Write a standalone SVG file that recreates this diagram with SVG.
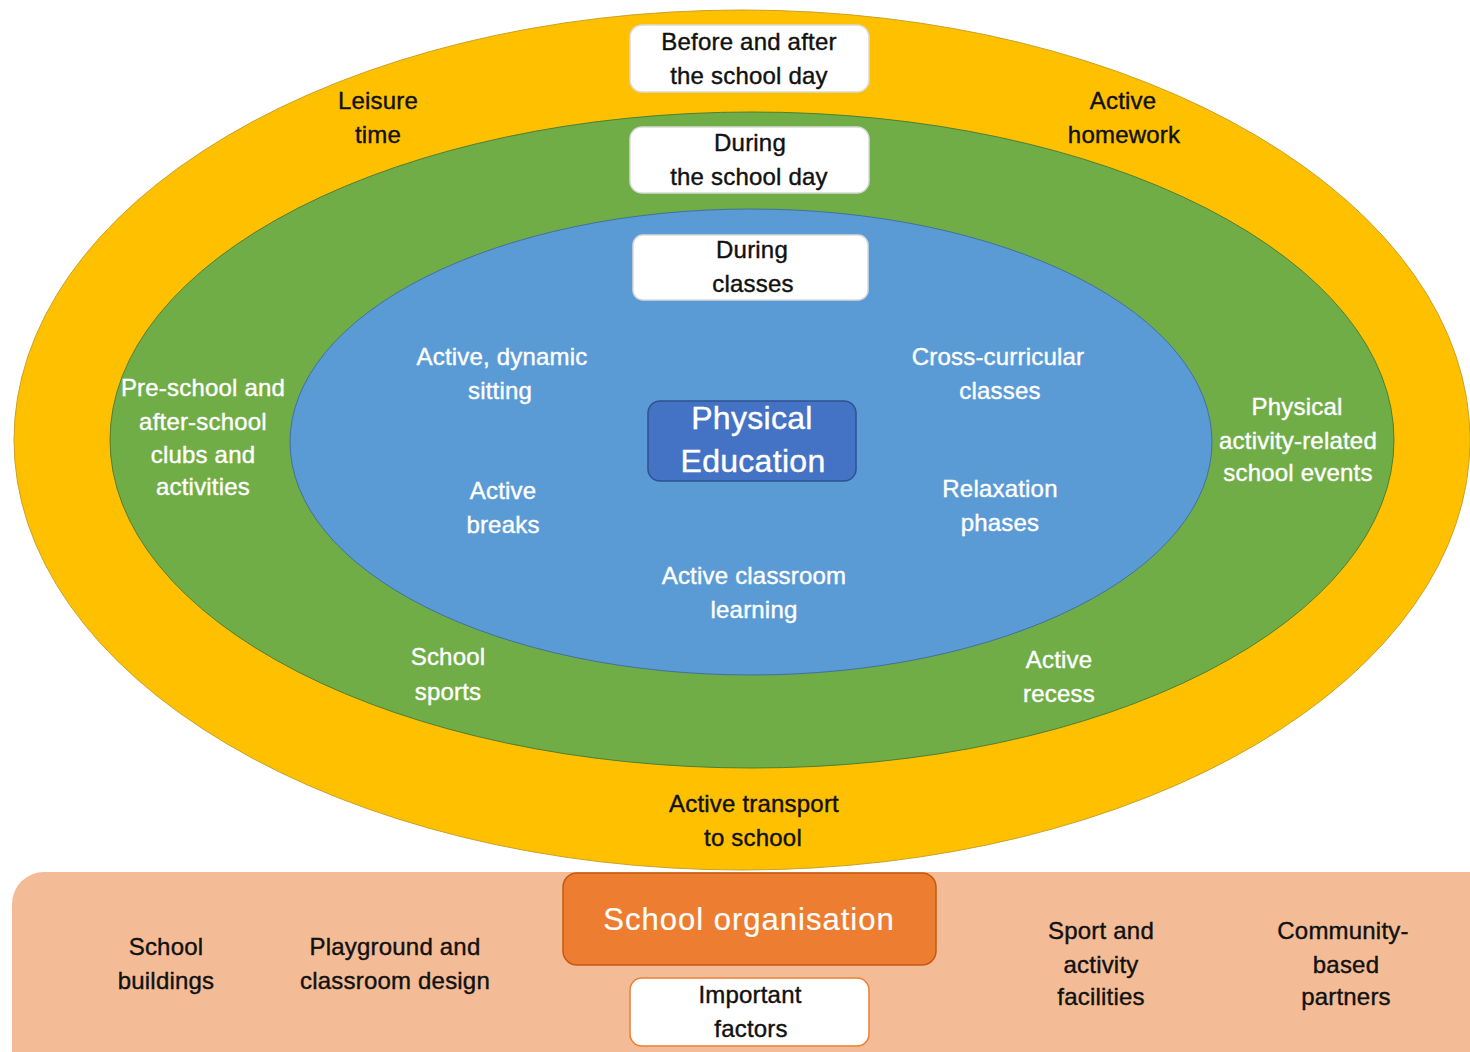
<svg xmlns="http://www.w3.org/2000/svg" width="1470" height="1052" viewBox="0 0 1470 1052">
<style>
text{font-family:"Liberation Sans",Arial,sans-serif;font-size:24px;text-anchor:middle;letter-spacing:0.2px;stroke-width:0.4px}
.w{fill:#ffffff;stroke:#ffffff}
.k{fill:#111111;stroke:#111111}
.big{font-size:32px;letter-spacing:0.3px}
.box{fill:#ffffff;stroke:#d9d9d9;stroke-width:1.5}
</style>
<rect width="1470" height="1052" fill="#ffffff"/>
<g id="bands">
<rect x="12" y="872" width="1500" height="220" rx="32" fill="#F4BC96"/>
<ellipse cx="742" cy="440" rx="728" ry="430" fill="#FFC000" stroke="#C9A227" stroke-width="1"/>
<ellipse cx="752" cy="440" rx="642" ry="328" fill="#70AD47" stroke="#507E32" stroke-width="1"/>
<ellipse cx="751" cy="442" rx="461" ry="233" fill="#5B9BD5" stroke="#41719C" stroke-width="1"/>
</g>
<g id="connectors"></g>
<g id="before-after"><rect class="box" x="630" y="25" width="239" height="67" rx="12"/><text class="k" x="749" y="50">Before and after</text><text class="k" x="749" y="84">the school day</text></g>
<g id="during-day"><rect class="box" x="630" y="127" width="239" height="66" rx="12"/><text class="k" x="750" y="151">During</text><text class="k" x="749" y="185">the school day</text></g>
<g id="during-classes"><rect class="box" x="633" y="235" width="235" height="65" rx="10" stroke="#8a8a8a"/><text class="k" x="752" y="258">During</text><text class="k" x="753" y="292">classes</text></g>
<g id="leisure"><text class="k" x="378" y="109">Leisure</text><text class="k" x="378" y="143">time</text></g>
<g id="homework"><text class="k" x="1123" y="109">Active</text><text class="k" x="1124" y="143">homework</text></g>
<g id="preschool"><text class="w" x="203" y="396">Pre-school and</text><text class="w" x="203" y="430">after-school</text><text class="w" x="203" y="463">clubs and</text><text class="w" x="203" y="495">activities</text></g>
<g id="events"><text class="w" x="1297" y="415">Physical</text><text class="w" x="1298" y="449">activity-related</text><text class="w" x="1298" y="481">school events</text></g>
<g id="sitting"><text class="w" x="502" y="365">Active, dynamic</text><text class="w" x="500" y="399">sitting</text></g>
<g id="crosscurricular"><text class="w" x="998" y="365">Cross-curricular</text><text class="w" x="1000" y="399">classes</text></g>
<g id="pe"><rect x="648" y="401" width="208" height="80" rx="12" fill="#4472C4" stroke="#2F528F" stroke-width="1.5"/><text class="w big" x="752" y="429">Physical</text><text class="w big" x="753" y="472">Education</text></g>
<g id="breaks"><text class="w" x="503" y="499">Active</text><text class="w" x="503" y="533">breaks</text></g>
<g id="relaxation"><text class="w" x="1000" y="497">Relaxation</text><text class="w" x="1000" y="531">phases</text></g>
<g id="classroom-learning"><text class="w" x="754" y="584">Active classroom</text><text class="w" x="754" y="618">learning</text></g>
<g id="sports"><text class="w" x="448" y="665">School</text><text class="w" x="448" y="700">sports</text></g>
<g id="recess"><text class="w" x="1059" y="668">Active</text><text class="w" x="1059" y="702">recess</text></g>
<g id="transport"><text class="k" x="754" y="812">Active transport</text><text class="k" x="753" y="846">to school</text></g>
<g id="school-org"><rect x="563" y="873" width="373" height="92" rx="14" fill="#ED7D31" stroke="#C55A11" stroke-width="1.5"/><text class="w" x="749" y="930" style="font-size:31px;letter-spacing:1px;stroke-width:0.2px">School organisation</text></g>
<g id="important"><rect x="630" y="978" width="239" height="68" rx="12" fill="#ffffff" stroke="#ED7D31" stroke-width="1.5"/><text class="k" x="750" y="1003">Important</text><text class="k" x="751" y="1037">factors</text></g>
<g id="buildings"><text class="k" x="166" y="955">School</text><text class="k" x="166" y="989">buildings</text></g>
<g id="playground"><text class="k" x="395" y="955">Playground and</text><text class="k" x="395" y="989">classroom design</text></g>
<g id="facilities"><text class="k" x="1101" y="939">Sport and</text><text class="k" x="1101" y="973">activity</text><text class="k" x="1101" y="1005">facilities</text></g>
<g id="community"><text class="k" x="1343" y="939">Community-</text><text class="k" x="1346" y="973">based</text><text class="k" x="1346" y="1005">partners</text></g>
</svg>
